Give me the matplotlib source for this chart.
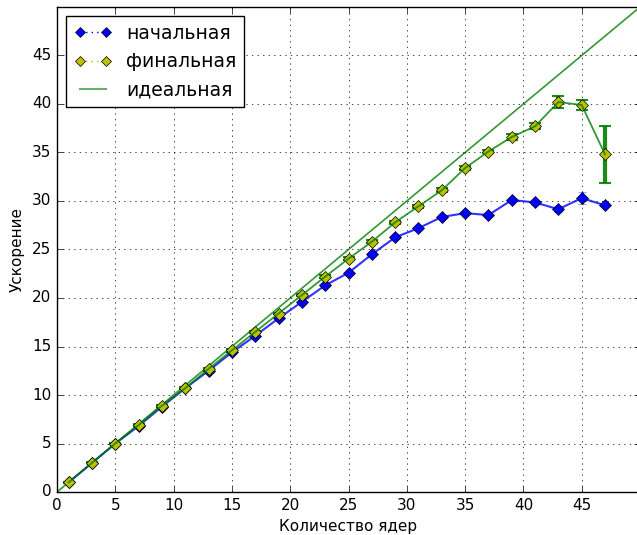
import matplotlib
matplotlib.use("Agg")
import matplotlib.pyplot as plt
from matplotlib.lines import Line2D

plt.style.use("classic")

cores = [1, 3, 5, 7, 9, 11, 13, 15, 17, 19, 21, 23, 25, 27, 29, 31, 33, 35, 37, 39, 41, 43, 45, 47]
initial = [1.0, 3.0, 5.0, 6.8, 8.8, 10.7, 12.5, 14.4, 16.1, 17.9, 19.6, 21.3, 22.6, 24.5,
           26.25, 27.2, 28.35, 28.75, 28.55, 30.1, 29.85, 29.15, 30.3, 29.55]
initial_err = [0.05, 0.05, 0.05, 0.1, 0.1, 0.1, 0.1, 0.1, 0.1, 0.1, 0.1, 0.1, 0.15, 0.15,
               0.15, 0.15, 0.15, 0.15, 0.2, 0.2, 0.3, 0.3, 0.6, 0.2]
final = [1.0, 3.0, 5.0, 6.9, 8.9, 10.7, 12.7, 14.6, 16.5, 18.4, 20.3, 22.2, 24.05, 25.8,
         27.8, 29.45, 31.1, 33.4, 35.1, 36.6, 37.7, 40.2, 39.9, 34.8]
final_err = [0.05, 0.05, 0.05, 0.1, 0.1, 0.1, 0.1, 0.1, 0.1, 0.1, 0.1, 0.15, 0.15, 0.15,
             0.15, 0.15, 0.2, 0.2, 0.2, 0.3, 0.3, 0.6, 0.5, 2.9]
ideal_x = [0, 50]

fig = plt.figure(figsize=(6.37, 5.35), dpi=100, facecolor="white")
ax = fig.add_axes([57 / 637, 43 / 535, 583 / 637, 485 / 535])

ax.plot(ideal_x, ideal_x, color="g", lw=1.2, alpha=0.8, zorder=2)

# initial run
ax.errorbar(cores, initial, yerr=initial_err, fmt="none", ecolor="b", elinewidth=2,
            capsize=3, alpha=0.5, zorder=3)
ax.plot(cores, initial, color="b", lw=1.5, alpha=0.8, zorder=3)
ax.plot(cores, initial, "bD", ms=6.5, zorder=4)

# final run
ax.errorbar(cores, final, yerr=final_err, fmt="none", ecolor="g", elinewidth=3,
            capsize=4, capthick=1.5, alpha=0.9, zorder=4)
ax.plot(cores, final, "yD", ms=6.5, zorder=5)
ax.plot(cores, final, color="g", lw=1.3, alpha=0.8, zorder=6)

ax.set_xlim(0, 50)
ax.set_ylim(0, 50)
ax.set_xticks(range(0, 50, 5))
ax.set_yticks(range(0, 50, 5))
ax.tick_params(labelsize=11)
ax.grid(True)
ax.set_xlabel("Количество ядер", fontsize=11)
ax.set_ylabel("Ускорение", fontsize=11)

handles = [
    Line2D([], [], color="b", ls=":", marker="D", ms=5.5),
    Line2D([], [], color="y", ls=":", marker="D", ms=5.5),
    Line2D([], [], color="g", lw=1.5, alpha=0.6),
]
ax.legend(handles, ["начальная", "финальная", "идеальная"], loc="upper left",
          fontsize=13.5, numpoints=2, handlelength=2.0, labelspacing=0.5)

fig.savefig("out.png", dpi=100, facecolor="white")
